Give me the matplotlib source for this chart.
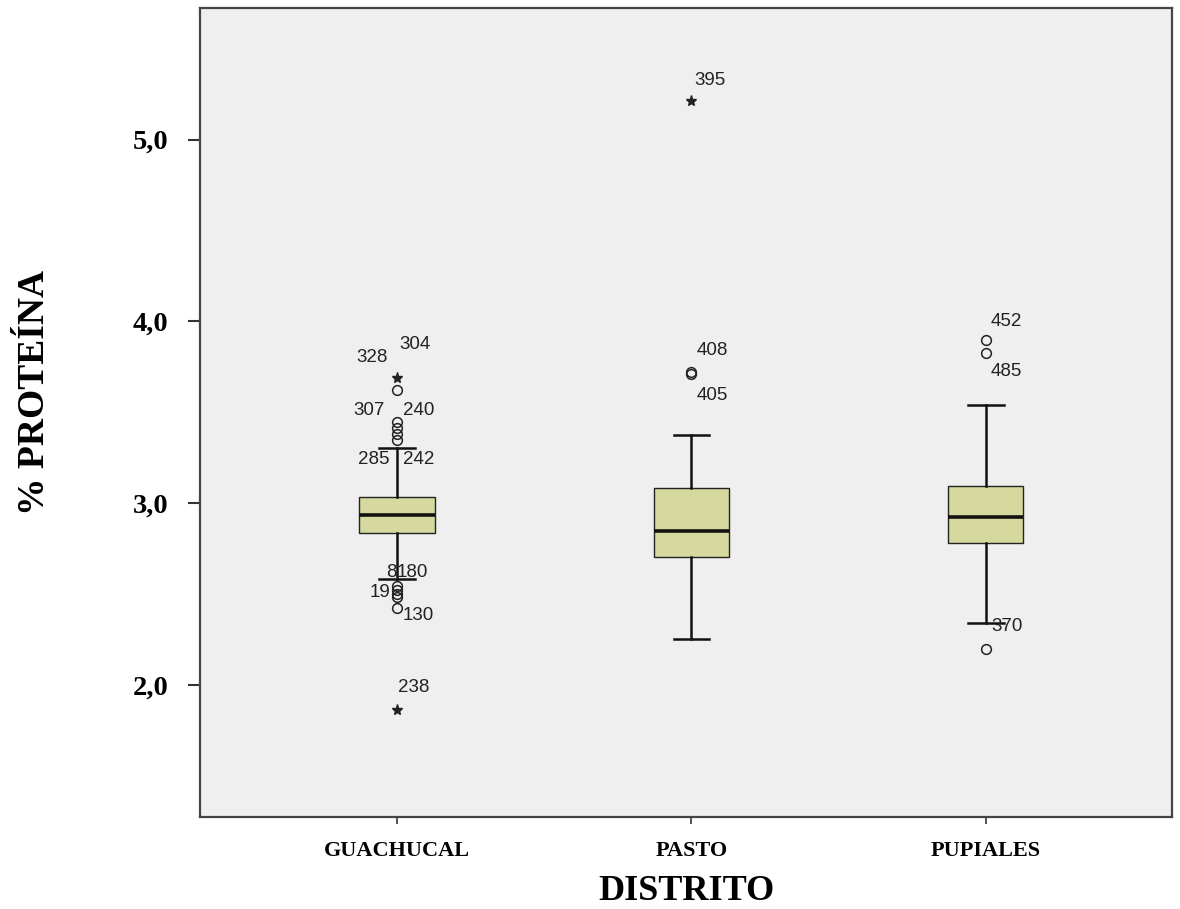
import matplotlib
matplotlib.use('Agg')
import matplotlib.pyplot as plt

# Datos
distritos = ['GUACHUCAL', 'PASTO', 'PUPIALES']
medianas = [2.934, 2.846, 2.923]
q1 = [2.835, 2.703, 2.780]
q3 = [3.033, 3.083, 3.094]
bigote_inf = [2.582, 2.252, 2.340]
bigote_sup = [3.303, 3.374, 3.539]

# atipicos (circulos) y extremos (estrellas)
atipicos_grupo = [0, 0, 0, 0, 0, 0, 0, 0, 0, 0, 1, 1, 2, 2, 2]
atipicos_valor = [3.62, 3.446, 3.413, 3.380, 3.347, 2.543, 2.520, 2.500, 2.480, 2.422,
                  3.72, 3.71, 3.897, 3.826, 2.196]
extremos_grupo = [0, 0, 1]
extremos_valor = [3.69, 1.861, 5.212]

# etiquetas de casos
casos_texto = ['328', '304', '307', '240', '285', '242', '8', '180', '19', '130', '238',
               '395', '408', '405', '452', '485', '370']
casos_grupo = [0, 0, 0, 0, 0, 0, 0, 0, 0, 0, 0, 1, 1, 1, 2, 2, 2]
casos_valor = [3.69, 3.69, 3.446, 3.446, 3.347, 3.347, 2.543, 2.543, 2.520, 2.422, 1.861,
               5.212, 3.72, 3.71, 3.897, 3.826, 2.196]

# desplazamiento de cada etiqueta en pixeles (dx, dy, alineacion)
desplaz = [(-9, 20, 'right'), (2, 33, 'left'), (-12, 11, 'right'), (6, 11, 'left'),
           (-7, -20, 'right'), (6, -20, 'left'), (0, 14, 'right'), (0, 14, 'left'),
           (-7, -2, 'right'), (6, -7, 'left'), (1, 22, 'left'),
           (3, 21, 'left'), (5, 22, 'left'), (5, -22, 'left'),
           (5, 18, 'left'), (5, -19, 'left'), (5, 23, 'left')]

serif = 'Liberation Serif'
sans = 'Liberation Sans'

fig = plt.figure(figsize=(11.8, 9.09), dpi=100)
ax = fig.add_axes([0.1695, 0.1012, 0.8237, 0.89])
ax.set_facecolor('#efefef')

posiciones = [1, 2, 3]
stats = []
for i in range(len(distritos)):
    stats.append({'med': medianas[i], 'q1': q1[i], 'q3': q3[i],
                  'whislo': bigote_inf[i], 'whishi': bigote_sup[i],
                  'fliers': [], 'label': distritos[i]})

ax.bxp(stats, positions=posiciones, widths=0.255, capwidths=0.12,
       patch_artist=True, showfliers=False,
       boxprops=dict(facecolor='#d6d99e', edgecolor='#222222', linewidth=1.0),
       medianprops=dict(color='#111111', linewidth=2.6),
       whiskerprops=dict(color='#111111', linewidth=1.8),
       capprops=dict(color='#111111', linewidth=1.8), zorder=3)

ax.plot([posiciones[g] for g in atipicos_grupo], atipicos_valor, 'o',
        mfc='none', mec='#222222', ms=7, mew=1.1, zorder=4)
ax.plot([posiciones[g] for g in extremos_grupo], extremos_valor, '*',
        color='#222222', ms=8, zorder=4)

for t, g, v, (dx, dy, ha) in zip(casos_texto, casos_grupo, casos_valor, desplaz):
    ax.annotate(t, (posiciones[g], v), xytext=(dx, dy), textcoords='offset pixels',
                ha=ha, va='center', fontsize=13.5, family=sans, color='#222222',
                zorder=5)

ax.set_xlim(0.331, 3.632)
ax.set_ylim(1.272, 5.724)

ax.set_yticks([2, 3, 4, 5])
ax.set_yticklabels(['2,0', '3,0', '4,0', '5,0'], fontsize=20.5, fontweight='bold',
                   family=serif)
ax.set_xticks(posiciones)
ax.set_xticklabels(distritos, fontsize=16, fontweight='bold', family=serif)
ax.tick_params(axis='y', direction='out', length=8.6, width=1.5, pad=14, colors='#333333',
               labelcolor='black')
ax.tick_params(axis='x', direction='out', length=5, width=1.2, pad=12, colors='#333333',
               labelcolor='black')

for s in ax.spines.values():
    s.set_color('#444444')
    s.set_linewidth(1.6)

ax.set_ylabel('% PROTEÍNA', fontsize=27, fontweight='bold', family=serif)
ax.yaxis.set_label_coords(-0.152, 0.525)
ax.set_xlabel('DISTRITO', fontsize=26, fontweight='bold', family=serif, labelpad=10)

fig.savefig('out.png', dpi=100, facecolor='white')
